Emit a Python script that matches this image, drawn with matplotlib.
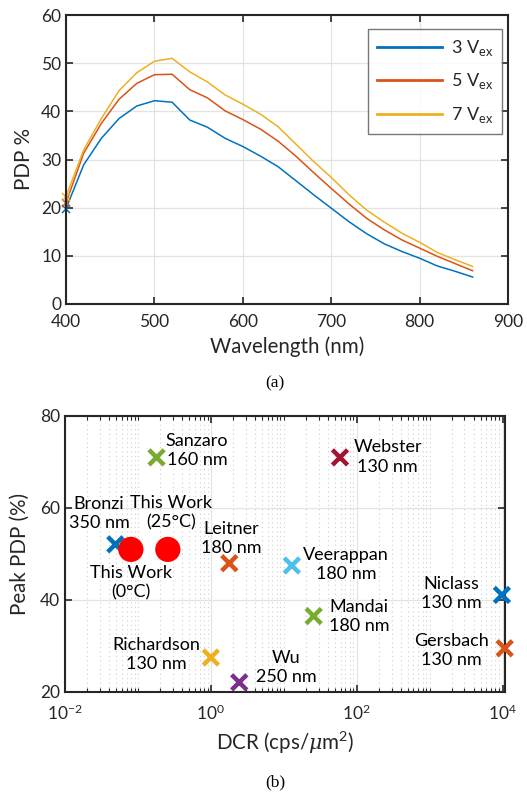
import numpy as np
import matplotlib
matplotlib.use("Agg")
import matplotlib.pyplot as plt
from matplotlib.ticker import FixedLocator, NullFormatter
from matplotlib.lines import Line2D

plt.rcParams['font.family'] = ['Lato', 'DejaVu Sans']
plt.rcParams['mathtext.fontset'] = 'custom'
plt.rcParams['mathtext.rm'] = 'Lato'
plt.rcParams['mathtext.it'] = 'DejaVu Serif:italic'
plt.rcParams['mathtext.bf'] = 'Lato:bold'

# ---------------- data: panel (a) ----------------
wavelength = [400, 420, 440, 460, 480, 500, 520, 540, 560, 580, 600, 620, 640,
              660, 680, 700, 720, 740, 760, 780, 800, 820, 840, 860]
pdp_3v = [19.8, 28.9, 34.4, 38.5, 41.1, 42.2, 41.9, 38.2, 36.7, 34.4, 32.7, 30.7,
          28.5, 25.6, 22.7, 19.9, 17.1, 14.6, 12.5, 10.9, 9.5, 7.9, 6.8, 5.6]
pdp_5v = [21.0, 31.3, 37.5, 42.5, 45.8, 47.6, 47.7, 44.5, 42.8, 40.1, 38.3, 36.3,
          33.8, 30.7, 27.3, 24.0, 20.8, 17.8, 15.4, 13.3, 11.6, 9.9, 8.4, 6.9]
pdp_7v = [22.3, 32.0, 38.5, 44.3, 48.0, 50.4, 51.0, 48.2, 46.1, 43.4, 41.5, 39.4,
          36.8, 33.2, 29.6, 26.3, 22.7, 19.5, 17.0, 14.7, 12.8, 10.7, 9.2, 7.8]
series_labels = ['3 V$_{\\mathrm{ex}}$', '5 V$_{\\mathrm{ex}}$', '7 V$_{\\mathrm{ex}}$']

# ---------------- data: panel (b) ----------------
names = ['Bronzi', 'Sanzaro', 'Webster', 'Leitner', 'Veerappan', 'Mandai',
         'Niclass', 'Gersbach', 'Richardson', 'Wu']
nodes = ['350 nm', '160 nm', '130 nm', '180 nm', '180 nm', '180 nm',
         '130 nm', '130 nm', '130 nm', '250 nm']
dcr = [0.049, 0.18, 59, 1.79, 12.9, 25.7, 9800, 10700, 1.0, 2.45]
peak_pdp = [52.1, 71.0, 71.0, 48.0, 47.5, 36.5, 41.1, 29.5, 27.5, 22.1]
this_work_labels = ['This Work\n(0°C)', 'This Work\n(25°C)']
this_work_dcr = [0.080, 0.257]
this_work_pdp = [51.0, 51.0]

# ---------------- styles / positions ----------------
mcol = {'blue': '#0072BD', 'orange': '#D95319', 'yellow': '#EDB120',
        'purple': '#7E2F8E', 'green': '#77AC30', 'lblue': '#4DBEEE',
        'dred': '#A2142F'}
pt_colors = [mcol['blue'], mcol['green'], mcol['dred'], mcol['orange'],
             mcol['lblue'], mcol['green'], mcol['blue'], mcol['orange'],
             mcol['yellow'], mcol['purple']]
label_pos = [(0.0294, 58.8), (0.646, 72.5), (266, 71.1), (1.91, 53.4),
             (71.9, 47.7), (108, 36.45), (1987, 41.4), (1987, 29.1),
             (0.180, 28.2), (10.8, 25.4)]
tw_label_pos = [(0.0794, 43.7), (0.286, 59.0)]

TXT = '#262626'
W, H = 527, 792
fig = plt.figure(figsize=(W / 100, H / 100), dpi=100)

def style_axes(ax):
    for s in ax.spines.values():
        s.set_linewidth(1.5)
        s.set_color(TXT)
    ax.tick_params(which='both', direction='in', top=True, right=True,
                   colors=TXT, labelcolor=TXT, labelsize=12.5)
    ax.tick_params(which='major', length=5, width=1.2)
    ax.set_axisbelow(True)

# ---------------- panel (a) ----------------
ax1 = fig.add_axes([66 / W, 1 - 304 / H, (508 - 66) / W, (304 - 15) / H])
style_axes(ax1)
cols = [mcol['blue'], mcol['orange'], mcol['yellow']]
for ys, c, lab in zip([pdp_3v, pdp_5v, pdp_7v], cols, series_labels):
    ax1.plot(wavelength, ys, color=c, lw=1.1, label=lab)
    ax1.plot(wavelength[:1], ys[:1], 'x', color=c, ms=6, mew=1.1, clip_on=False)
ax1.set_xlim(400, 900)
ax1.set_ylim(0, 60)
ax1.set_xticks(np.arange(400, 901, 100))
ax1.set_yticks(np.arange(0, 61, 10))
ax1.grid(True, color='#e3e3e3', lw=0.9)
ax1.tick_params(axis='x', pad=7)
ax1.set_xlabel('Wavelength (nm)', fontsize=14.8, color=TXT, labelpad=5)
ax1.set_ylabel('PDP %', fontsize=14.8, color=TXT, labelpad=5)
handles = [Line2D([], [], color=c, lw=2) for c in cols]
leg = ax1.legend(handles, series_labels, loc='upper left',
                 bbox_to_anchor=(0.683, 0.952), fontsize=13, frameon=True,
                 fancybox=False, handlelength=3.6, labelspacing=0.75,
                 borderpad=0.5, handletextpad=0.5, borderaxespad=0)
leg.get_frame().set_edgecolor('#555555')
leg.get_frame().set_linewidth(1.0)
for t in leg.get_texts():
    t.set_color(TXT)
fig.text(275 / W, 1 - 383 / H, '(a)', family='Liberation Serif', fontsize=12.5,
         ha='center', va='center', color='black')

# ---------------- panel (b) ----------------
ax2 = fig.add_axes([65 / W, 1 - 692 / H, (505 - 65) / W, (692 - 416) / H])
style_axes(ax2)
ax2.set_xscale('log')
ax2.set_xlim(1e-2, 1.08e4)
ax2.set_ylim(20, 80)
ax2.set_yticks([20, 40, 60, 80])
ax2.xaxis.set_major_locator(FixedLocator([1e-2, 1e0, 1e2, 1e4]))
ax2.set_xticklabels(['$10^{-2}$', '$10^{0}$', '$10^{2}$', '$10^{4}$'])
minor = []
for d in range(-2, 5):
    for m in range(1, 10):
        v = m * 10.0 ** d
        if v <= 1.08e4 and not (m == 1 and d % 2 == 0):
            minor.append(v)
ax2.xaxis.set_minor_locator(FixedLocator(minor))
ax2.xaxis.set_minor_formatter(NullFormatter())
ax2.tick_params(which='minor', length=3, width=0.8)
ax2.tick_params(axis='y', which='minor', left=False, right=False)
ax2.grid(True, which='major', color='#e3e3e3', lw=0.9)
ax2.grid(True, which='minor', axis='x', color='#cfcfcf', lw=0.8, ls=(0, (1, 3)))
ax2.tick_params(axis='x', pad=8)

ax2.scatter(dcr, peak_pdp, marker='x', c=pt_colors, s=120, linewidths=3.2,
            zorder=3, clip_on=False)
ax2.scatter(this_work_dcr, this_work_pdp, marker='o', c='#ff0000', s=330,
            edgecolors='none', zorder=4)
for n, nd, (px, py) in zip(names, nodes, label_pos):
    ax2.text(px, py, n + '\n' + nd, ha='center', va='center', fontsize=13,
             color='black', linespacing=1.25, zorder=5)
for lab, (px, py) in zip(this_work_labels, tw_label_pos):
    ax2.text(px, py, lab, ha='center', va='center', fontsize=13,
             color='black', linespacing=1.25, zorder=5)

ax2.set_xlabel('DCR (cps/$\\mu$m$^{2}$)', fontsize=14.8, color=TXT, labelpad=5)
ax2.set_ylabel('Peak PDP (%)', fontsize=14.8, color=TXT, labelpad=7)
fig.text(275 / W, 1 - 782 / H, '(b)', family='Liberation Serif', fontsize=12.5,
         ha='center', va='center', color='black')

fig.savefig('out.png', dpi=100)
